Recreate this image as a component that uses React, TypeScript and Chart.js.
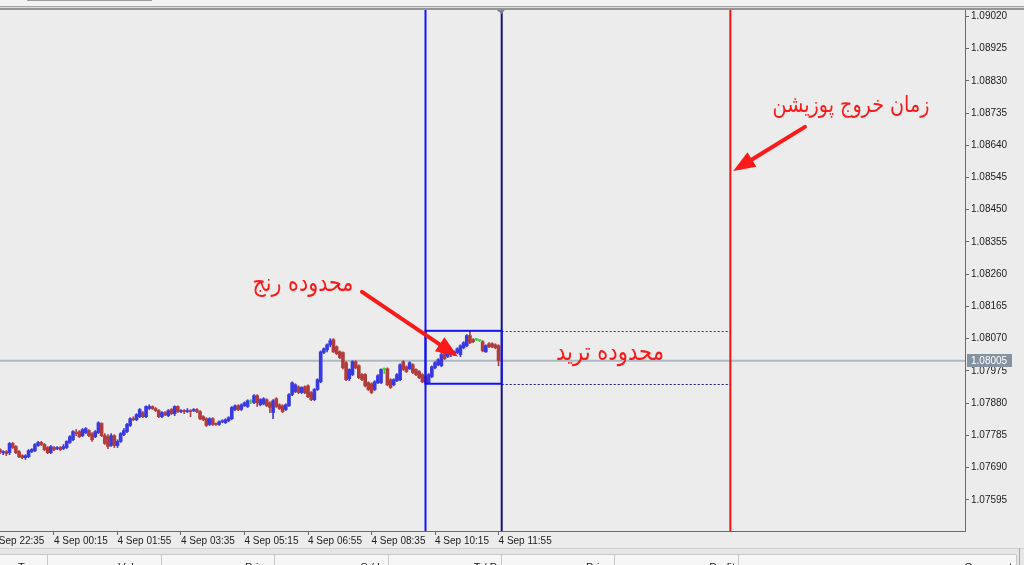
import React, { useEffect, useRef } from 'react';
import { Chart, registerables } from 'chart.js';

Chart.register(...registerables);

// bar index 0 = 4 Sep 00:15 (M5 bars); first visible candle is bar -17
const FIRST_BAR = -17;

const opens = [
  1.07743, 1.07734, 1.07737, 1.07734, 1.07761, 1.07752, 1.07737, 1.07725, 1.07719, 1.07722,
  1.07737, 1.07740, 1.07755, 1.07764, 1.07758, 1.07749, 1.07734,
  1.07749, 1.07746, 1.07749, 1.07746, 1.07749, 1.07764, 1.07772, 1.07793, 1.07796, 1.07784,
  1.07793, 1.07799, 1.07790, 1.07781, 1.07793, 1.07820, 1.07784, 1.07781, 1.07755, 1.07784,
  1.07755, 1.07767, 1.07787, 1.07796, 1.07814, 1.07834, 1.07831, 1.07840, 1.07852, 1.07840,
  1.07864, 1.07870, 1.07864, 1.07858, 1.07840, 1.07852, 1.07843, 1.07861, 1.07849, 1.07870,
  1.07855, 1.07858, 1.07855, 1.07858, 1.07858, 1.07861, 1.07855, 1.07840, 1.07834, 1.07817,
  1.07834, 1.07820, 1.07817, 1.07825, 1.07822, 1.07828, 1.07834, 1.07861, 1.07872, 1.07861,
  1.07872, 1.07870, 1.07884, 1.07881, 1.07902, 1.07875, 1.07878, 1.07890, 1.07881, 1.07852,
  1.07893, 1.07875, 1.07872, 1.07861, 1.07872, 1.07905, 1.07914, 1.07928, 1.07911, 1.07928,
  1.07931, 1.07911, 1.07890, 1.07920, 1.07943, 1.08029, 1.08037, 1.08052, 1.08067, 1.08046,
  1.08031, 1.08029, 1.07999, 1.07952, 1.07964, 1.08002, 1.07990, 1.07964, 1.07964, 1.07940,
  1.07937, 1.07920, 1.07940, 1.07940, 1.07979, 1.07981, 1.07949, 1.07934, 1.07946, 1.07949,
  1.08002, 1.07987, 1.07981, 1.07993, 1.07979, 1.07973, 1.07964, 1.07958, 1.07940, 1.07958,
  1.07984, 1.07993, 1.07990, 1.08029, 1.08017, 1.08023, 1.08023, 1.08029, 1.08023, 1.08043,
  1.08049, 1.08079, 1.08067, 1.08067, 1.08064, 1.08061, 1.08031, 1.08055, 1.08055, 1.08052,
  1.08049,
];
const highs = [
  1.07746, 1.07740, 1.07740, 1.07764, 1.07764, 1.07755, 1.07740, 1.07728, 1.07728, 1.07743,
  1.07746, 1.07761, 1.07767, 1.07767, 1.07761, 1.07752, 1.07755,
  1.07752, 1.07752, 1.07752, 1.07758, 1.07769, 1.07784, 1.07799, 1.07802, 1.07799, 1.07805,
  1.07808, 1.07802, 1.07793, 1.07799, 1.07825, 1.07822, 1.07790, 1.07787, 1.07790, 1.07787,
  1.07772, 1.07793, 1.07805, 1.07820, 1.07837, 1.07840, 1.07849, 1.07864, 1.07855, 1.07872,
  1.07875, 1.07872, 1.07867, 1.07861, 1.07855, 1.07855, 1.07861, 1.07864, 1.07872, 1.07872,
  1.07861, 1.07861, 1.07864, 1.07861, 1.07864, 1.07864, 1.07858, 1.07843, 1.07837, 1.07837,
  1.07837, 1.07822, 1.07828, 1.07831, 1.07834, 1.07840, 1.07870, 1.07875, 1.07875, 1.07878,
  1.07884, 1.07890, 1.07890, 1.07905, 1.07905, 1.07893, 1.07896, 1.07893, 1.07884, 1.07890,
  1.07896, 1.07878, 1.07875, 1.07878, 1.07908, 1.07943, 1.07937, 1.07931, 1.07928, 1.07931,
  1.07934, 1.07914, 1.07923, 1.07952, 1.08034, 1.08043, 1.08055, 1.08070, 1.08070, 1.08049,
  1.08034, 1.08031, 1.08002, 1.07981, 1.08005, 1.08005, 1.07993, 1.07967, 1.07967, 1.07943,
  1.07940, 1.07946, 1.07964, 1.07981, 1.07984, 1.07984, 1.07952, 1.07952, 1.07967, 1.07996,
  1.08005, 1.07990, 1.08002, 1.07996, 1.07981, 1.07976, 1.07967, 1.07961, 1.07967, 1.07990,
  1.08002, 1.08011, 1.08031, 1.08031, 1.08029, 1.08029, 1.08034, 1.08043, 1.08052, 1.08061,
  1.08082, 1.08093, 1.08070, 1.08070, 1.08067, 1.08064, 1.08052, 1.08058, 1.08058, 1.08055,
  1.08052,
];
const lows = [
  1.07731, 1.07728, 1.07725, 1.07728, 1.07746, 1.07731, 1.07719, 1.07716, 1.07714, 1.07719,
  1.07734, 1.07737, 1.07752, 1.07755, 1.07740, 1.07731, 1.07731,
  1.07740, 1.07743, 1.07740, 1.07743, 1.07746, 1.07761, 1.07769, 1.07784, 1.07778, 1.07781,
  1.07790, 1.07781, 1.07767, 1.07778, 1.07790, 1.07781, 1.07758, 1.07746, 1.07752, 1.07749,
  1.07749, 1.07764, 1.07784, 1.07793, 1.07811, 1.07828, 1.07828, 1.07837, 1.07837, 1.07837,
  1.07861, 1.07861, 1.07855, 1.07837, 1.07837, 1.07843, 1.07840, 1.07846, 1.07843, 1.07852,
  1.07852, 1.07849, 1.07852, 1.07840, 1.07855, 1.07852, 1.07831, 1.07828, 1.07811, 1.07814,
  1.07814, 1.07814, 1.07814, 1.07822, 1.07820, 1.07825, 1.07831, 1.07858, 1.07858, 1.07858,
  1.07870, 1.07867, 1.07878, 1.07878, 1.07870, 1.07872, 1.07875, 1.07870, 1.07852, 1.07834,
  1.07867, 1.07861, 1.07852, 1.07858, 1.07870, 1.07902, 1.07911, 1.07908, 1.07908, 1.07908,
  1.07896, 1.07887, 1.07887, 1.07917, 1.07940, 1.08026, 1.08031, 1.08046, 1.08029, 1.08023,
  1.08011, 1.07981, 1.07946, 1.07946, 1.07961, 1.07981, 1.07952, 1.07946, 1.07928, 1.07917,
  1.07908, 1.07917, 1.07937, 1.07937, 1.07967, 1.07931, 1.07923, 1.07931, 1.07943, 1.07946,
  1.07976, 1.07970, 1.07979, 1.07967, 1.07961, 1.07952, 1.07940, 1.07937, 1.07937, 1.07955,
  1.07981, 1.07990, 1.07987, 1.08008, 1.08014, 1.08017, 1.08020, 1.08026, 1.08017, 1.08040,
  1.08046, 1.08055, 1.08058, 1.08064, 1.08061, 1.08031, 1.08029, 1.08043, 1.08043, 1.08040,
  1.07990,
];
const closes = [
  1.07736, 1.07737, 1.07731, 1.07761, 1.07749, 1.07734, 1.07722, 1.07719, 1.07725, 1.07740,
  1.07743, 1.07758, 1.07764, 1.07758, 1.07743, 1.07734, 1.07752,
  1.07743, 1.07749, 1.07743, 1.07752, 1.07767, 1.07781, 1.07796, 1.07790, 1.07781, 1.07802,
  1.07805, 1.07784, 1.07772, 1.07796, 1.07822, 1.07784, 1.07761, 1.07752, 1.07784, 1.07755,
  1.07767, 1.07790, 1.07799, 1.07817, 1.07834, 1.07831, 1.07846, 1.07861, 1.07840, 1.07870,
  1.07870, 1.07864, 1.07858, 1.07840, 1.07852, 1.07846, 1.07858, 1.07849, 1.07870, 1.07855,
  1.07858, 1.07855, 1.07858, 1.07855, 1.07861, 1.07855, 1.07834, 1.07831, 1.07814, 1.07834,
  1.07817, 1.07817, 1.07825, 1.07828, 1.07831, 1.07837, 1.07867, 1.07872, 1.07861, 1.07875,
  1.07881, 1.07887, 1.07884, 1.07902, 1.07881, 1.07890, 1.07893, 1.07872, 1.07867, 1.07887,
  1.07870, 1.07864, 1.07855, 1.07875, 1.07905, 1.07940, 1.07934, 1.07911, 1.07926, 1.07911,
  1.07899, 1.07890, 1.07920, 1.07949, 1.08031, 1.08040, 1.08052, 1.08064, 1.08031, 1.08026,
  1.08014, 1.07984, 1.07949, 1.07979, 1.08002, 1.07984, 1.07955, 1.07949, 1.07931, 1.07920,
  1.07911, 1.07943, 1.07961, 1.07979, 1.07979, 1.07934, 1.07926, 1.07949, 1.07964, 1.07993,
  1.07979, 1.07973, 1.07999, 1.07970, 1.07964, 1.07955, 1.07943, 1.07940, 1.07964, 1.07987,
  1.07999, 1.08008, 1.08023, 1.08011, 1.08026, 1.08025, 1.08031, 1.08040, 1.08049, 1.08058,
  1.08079, 1.08058, 1.08061, 1.08067, 1.08064, 1.08034, 1.08049, 1.08046, 1.08046, 1.08043,
  1.08005,
];

const xTickBars = [-20, 0, 20, 40, 60, 80, 100, 120, 140];
const xTickLabels = [
  '3 Sep 22:35', '4 Sep 00:15', '4 Sep 01:55', '4 Sep 03:35', '4 Sep 05:15',
  '4 Sep 06:55', '4 Sep 08:35', '4 Sep 10:15', '4 Sep 11:55',
];
const yTicks = [
  1.07595, 1.0769, 1.07785, 1.0788, 1.07975, 1.0807, 1.08165, 1.0826,
  1.08355, 1.0845, 1.08545, 1.0864, 1.08735, 1.0883, 1.08925, 1.0902,
];

const currentPrice = 1.08005;
const rangeStartBar = 117; // 4 Sep 10:00
const rangeEndBar = 141; // 4 Sep 12:00
const exitBar = 213; // 4 Sep 18:00
const rangeHigh = 1.08093;
const rangeLow = 1.07937;

const X_MIN = -17;
const X_MAX = 286.9;
const Y_MIN = 1.07503;
const Y_MAX = 1.090386;

const labelExit = 'زمان خروج پوزیشن';
const labelRange = 'محدوده رنج';
const labelTrade = 'محدوده ترید';

const BG = '#ECECEC';
const AXIS = '#6a6a6a';
const BLUE = '#3a3ae4';
const RED_C = '#b23c3c';
const GREEN = '#3fd13f';
const ANN_RED = '#fb1a1a';

const candleColor = (k: number) =>
  closes[k] > opens[k] ? BLUE : closes[k] < opens[k] ? RED_C : GREEN;

function drawArrow(ctx: CanvasRenderingContext2D, x1: number, y1: number, x2: number, y2: number) {
  const ang = Math.atan2(y2 - y1, x2 - x1);
  const headLen = 22;
  const headW = 8.5;
  const bx = x2 - headLen * Math.cos(ang);
  const by = y2 - headLen * Math.sin(ang);
  ctx.save();
  ctx.strokeStyle = ANN_RED;
  ctx.fillStyle = ANN_RED;
  ctx.lineWidth = 4;
  ctx.lineCap = 'round';
  ctx.beginPath();
  ctx.moveTo(x1, y1);
  ctx.lineTo(bx, by);
  ctx.stroke();
  ctx.beginPath();
  ctx.moveTo(x2, y2);
  ctx.lineTo(bx + headW * Math.sin(ang), by - headW * Math.cos(ang));
  ctx.lineTo(bx - headW * Math.sin(ang), by + headW * Math.cos(ang));
  ctx.closePath();
  ctx.fill();
  ctx.restore();
}

function drawFitted(ctx: CanvasRenderingContext2D, text: string, cx: number, cy: number, width: number) {
  ctx.save();
  ctx.font = '20px "DejaVu Sans"';
  const w = ctx.measureText(text).width || 1;
  const size = (20 * width) / w;
  ctx.font = `${size.toFixed(2)}px "DejaVu Sans"`;
  ctx.fillStyle = ANN_RED;
  ctx.textAlign = 'center';
  ctx.textBaseline = 'middle';
  ctx.translate(cx, cy);
  ctx.scale(1, 1.2);
  ctx.fillText(text, 0, 0);
  ctx.restore();
}

const decorPlugin = {
  id: 'mtDecor',
  beforeDraw(chart: any) {
    const { ctx } = chart;
    ctx.save();
    ctx.fillStyle = BG;
    ctx.fillRect(0, 0, chart.width, chart.height);
    ctx.restore();
  },
  beforeDatasetsDraw(chart: any) {
    const { ctx, chartArea, scales } = chart;
    const y = scales.y.getPixelForValue(currentPrice);
    ctx.save();
    ctx.strokeStyle = '#adbac3';
    ctx.lineWidth = 2;
    ctx.beginPath();
    ctx.moveTo(chartArea.left, y);
    ctx.lineTo(chartArea.right, y);
    ctx.stroke();
    ctx.restore();
  },
  afterDatasetsDraw(chart: any) {
    const { ctx, chartArea, scales } = chart;
    const xs = scales.x;
    const ys = scales.y;
    const xA = xs.getPixelForValue(rangeStartBar);
    const xB = xs.getPixelForValue(rangeEndBar);
    const xE = xs.getPixelForValue(exitBar);
    const yH = ys.getPixelForValue(rangeHigh);
    const yL = ys.getPixelForValue(rangeLow);
    ctx.save();
    ctx.beginPath();
    ctx.rect(chartArea.left, chartArea.top, chartArea.right - chartArea.left, chartArea.bottom - chartArea.top);
    ctx.clip();

    // dotted extensions
    ctx.lineWidth = 1;
    ctx.setLineDash([2, 2]);
    ctx.strokeStyle = '#2a2aff';
    ctx.beginPath();
    ctx.moveTo(xB, Math.round(yH) + 0.5);
    ctx.lineTo(xE, Math.round(yH) + 0.5);
    ctx.stroke();
    ctx.strokeStyle = '#1a1a70';
    ctx.beginPath();
    ctx.moveTo(xB, Math.round(yL) + 0.5);
    ctx.lineTo(xE, Math.round(yL) + 0.5);
    ctx.stroke();
    ctx.setLineDash([]);

    // vertical lines
    ctx.lineWidth = 2;
    ctx.strokeStyle = '#1414f0';
    ctx.beginPath();
    ctx.moveTo(xA, chartArea.top);
    ctx.lineTo(xA, chartArea.bottom);
    ctx.stroke();
    ctx.strokeStyle = '#12127c';
    ctx.beginPath();
    ctx.moveTo(xB, chartArea.top);
    ctx.lineTo(xB, chartArea.bottom);
    ctx.stroke();
    ctx.strokeStyle = '#f01414';
    ctx.beginPath();
    ctx.moveTo(xE, chartArea.top);
    ctx.lineTo(xE, chartArea.bottom);
    ctx.stroke();

    // range box
    ctx.strokeStyle = '#1414f0';
    ctx.strokeRect(xA, yH, xB - xA, yL - yH);

    // small marker on top of the 12:00 line
    ctx.fillStyle = '#7a8290';
    ctx.beginPath();
    ctx.moveTo(xB - 5, chartArea.top);
    ctx.lineTo(xB + 3, chartArea.top);
    ctx.lineTo(xB, chartArea.top + 4);
    ctx.closePath();
    ctx.fill();

    // arrows
    drawArrow(ctx, xs.getPixelForValue(97), ys.getPixelForValue(1.08208), xs.getPixelForValue(127.2), ys.getPixelForValue(1.08017));
    drawArrow(ctx, xs.getPixelForValue(236.5), ys.getPixelForValue(1.08694), xs.getPixelForValue(213.9), ys.getPixelForValue(1.08564));

    // texts
    drawFitted(ctx, labelExit, xs.getPixelForValue(251), ys.getPixelForValue(1.08756), 157);
    drawFitted(ctx, labelRange, xs.getPixelForValue(78.4), ys.getPixelForValue(1.08229), 101);
    drawFitted(ctx, labelTrade, xs.getPixelForValue(175.1), ys.getPixelForValue(1.08026), 108);
    ctx.restore();
  },
  afterDraw(chart: any) {
    const { ctx, chartArea, scales } = chart;
    const W = chart.width;
    ctx.save();
    // current price label on the price axis
    const y = scales.y.getPixelForValue(currentPrice);
    ctx.fillStyle = '#8593a1';
    ctx.fillRect(chartArea.right + 2, Math.round(y) - 7, 45, 13);
    ctx.fillStyle = '#ffffff';
    ctx.font = '10px "Liberation Sans"';
    ctx.textAlign = 'left';
    ctx.textBaseline = 'middle';
    ctx.fillText(currentPrice.toFixed(5), chartArea.right + 6, Math.round(y));

    // window frame at top
    ctx.fillStyle = '#f2f2f2';
    ctx.fillRect(0, 0, W, 6);
    ctx.fillStyle = '#9c9c9c';
    ctx.fillRect(27, 0, 125, 1);
    ctx.fillStyle = '#a6a6a6';
    ctx.fillRect(0, 6, W, 1);
    ctx.fillStyle = '#dadada';
    ctx.fillRect(0, 7, W, 1);
    ctx.fillStyle = '#959595';
    ctx.fillRect(0, 8, W, 2);

    // bottom trade table header
    ctx.fillStyle = '#e6e6e6';
    ctx.fillRect(0, 548, W, 17);
    ctx.fillStyle = '#d0d0d0';
    ctx.fillRect(0, 548, W, 1);
    ctx.fillStyle = '#f6f6f6';
    ctx.fillRect(0, 555, 1016, 10);
    ctx.fillStyle = '#c8c8c8';
    ctx.fillRect(0, 554, 1016, 1);
    const seps = [47, 161, 274, 388, 501, 614, 738, 1016];
    seps.forEach((sx) => ctx.fillRect(sx, 555, 1, 10));
    ctx.fillStyle = '#a8a8a8';
    ctx.fillRect(1019, 548, 1, 17);
    ctx.fillStyle = '#222';
    ctx.font = '11px "Liberation Sans"';
    ctx.textBaseline = 'alphabetic';
    ctx.textAlign = 'left';
    ctx.fillText('Type', 18, 571);
    ctx.textAlign = 'right';
    const heads: [string, number][] = [
      ['Volume', 155], ['Price', 270], ['S / L', 383], ['T / P', 497],
      ['Price', 611], ['Profit', 735], ['Comment', 1012],
    ];
    heads.forEach(([t, hx]) => ctx.fillText(t, hx, 571));
    ctx.restore();
  },
};

export default function App() {
  const ref = useRef<HTMLCanvasElement | null>(null);

  useEffect(() => {
    if (!ref.current) return;
    const wickData = lows.map((l, k) => ({ x: FIRST_BAR + k, y: [l, highs[k]] }));
    const bodyData = opens.map((o, k) => ({ x: FIRST_BAR + k, y: [o, closes[k]] }));
    const colors = opens.map((_, k) => candleColor(k));
    const font = { family: '"Liberation Sans", Arial, sans-serif', size: 10 };

    const chart = new Chart(ref.current, {
      type: 'bar',
      data: {
        datasets: [
          {
            label: 'wick',
            data: wickData as any,
            backgroundColor: colors,
            barThickness: 1,
            grouped: false,
            borderWidth: 0,
          } as any,
          {
            label: 'body',
            data: bodyData as any,
            backgroundColor: colors,
            barThickness: 3,
            minBarLength: 1,
            grouped: false,
            borderWidth: 0,
          } as any,
        ],
      },
      options: {
        animation: false,
        responsive: false,
        maintainAspectRatio: false,
        layout: { padding: { top: 10, left: 0, right: 0, bottom: 0 } },
        plugins: { legend: { display: false }, tooltip: { enabled: false }, title: { display: false } },
        scales: {
          x: {
            type: 'linear',
            min: X_MIN,
            max: X_MAX,
            bounds: 'data',
            offset: false,
            grid: { display: true, drawOnChartArea: false, drawTicks: true, tickLength: 4, color: AXIS, offset: false },
            border: { display: true, color: AXIS, width: 1 },
            ticks: {
              autoSkip: false,
              maxRotation: 0,
              minRotation: 0,
              align: 'start',
              padding: 0,
              color: '#1c1c1c',
              font,
              callback: (v: any) => {
                const idx = xTickBars.indexOf(Number(v));
                return idx >= 0 ? xTickLabels[idx] : '';
              },
            },
            afterBuildTicks: (s: any) => {
              s.ticks = xTickBars.map((v) => ({ value: v }));
            },
            afterFit: (s: any) => {
              s.height = 34;
              s.paddingLeft = 0;
              s.paddingRight = 0;
            },
          } as any,
          y: {
            type: 'linear',
            position: 'right',
            min: Y_MIN,
            max: Y_MAX,
            bounds: 'data',
            grid: { display: true, drawOnChartArea: false, drawTicks: true, tickLength: 4, color: AXIS },
            border: { display: true, color: AXIS, width: 1 },
            ticks: {
              padding: 2,
              color: '#1c1c1c',
              font,
              callback: (v: any) => Number(v).toFixed(5),
            },
            afterBuildTicks: (s: any) => {
              s.ticks = yTicks.map((v) => ({ value: v }));
            },
            afterFit: (s: any) => {
              s.width = 59;
              s.paddingTop = 0;
              s.paddingBottom = 0;
            },
          } as any,
        },
      },
      plugins: [decorPlugin as any],
    });
    return () => chart.destroy();
  }, []);

  return (
    <div style={{ position: 'fixed', left: 0, top: 0, width: 1024, height: 565, background: BG, overflow: 'hidden' }}>
      <canvas ref={ref} width={1024} height={565} style={{ display: 'block', width: 1024, height: 565 }} />
    </div>
  );
}
